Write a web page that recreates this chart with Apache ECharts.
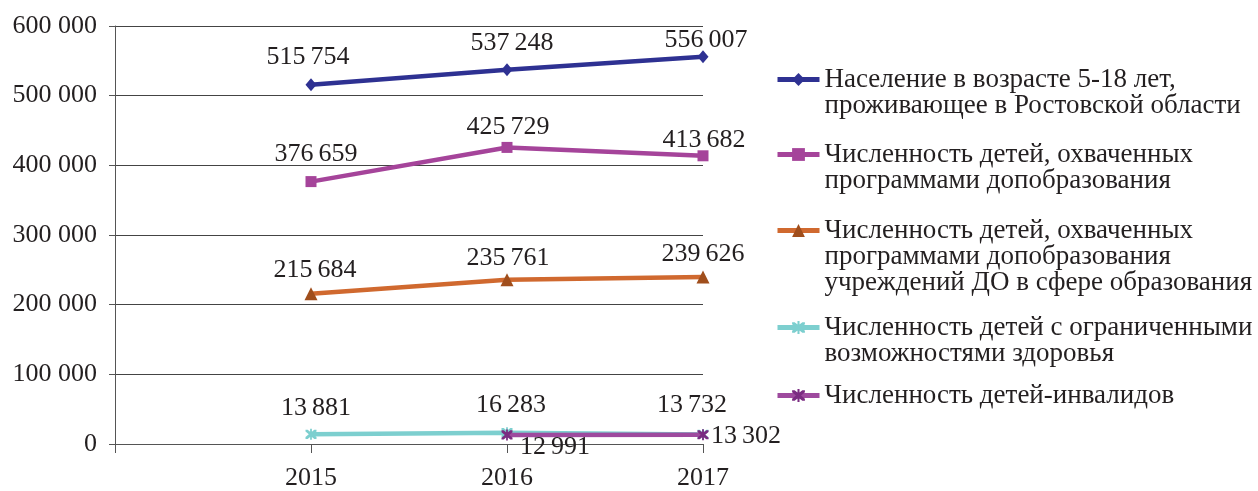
<!DOCTYPE html>
<html>
<head>
<meta charset="utf-8">
<script src="https://cdn.jsdelivr.net/npm/echarts@6/dist/echarts.min.js"></script>
<style>html,body{margin:0;padding:0;background:#fff}#c{width:1258px;height:491px}</style>
</head>
<body>
<div id="c"></div>
<script>
// ---- data ----
const years = [2015, 2016, 2017];
const seriesNames = [
  'Население в возрасте 5-18 лет,\nпроживающее в Ростовской области',
  'Численность детей, охваченных\nпрограммами допобразования',
  'Численность детей, охваченных\nпрограммами допобразования\nучреждений ДО в сфере образования',
  'Численность детей с ограниченными\nвозможностями здоровья',
  'Численность детей-инвалидов'
];
const population = [515754, 537248, 556007];
const coveredAll = [376659, 425729, 413682];
const coveredDO = [215684, 235761, 239626];
const limitedHealth = [13881, 16283, 13732];
const disabled = [null, 12991, 13302];
const yTicks = [0, 100000, 200000, 300000, 400000, 500000, 600000];

// ---- style config ----
const FONT = 'Liberation Serif';
const TXT = '#231f20';
const LH = 26;
const starPath = 'path://M0,0 L2,0 L5,3 L8,0 L10,0 L10,2 L7,5 L10,8 L10,10 L8,10 L5,7 L2,10 L0,10 L0,8 L3,5 L0,2 Z M4.2,-1 L5.8,-1 L5.8,11 L4.2,11 Z';
const styles = [
  {color: '#2e3192', marker: '#2e3192', symbol: 'diamond', size: [11, 13]},
  {color: '#a5449a', marker: '#a5449a', symbol: 'rect', size: 11},
  {color: '#d0692f', marker: '#a04e1c', symbol: 'triangle', size: 13},
  {color: '#7dcfcf', marker: '#7dcfcf', symbol: starPath, size: 11},
  {color: '#9e4a9e', marker: '#7b2c82', symbol: starPath, size: 11}
];
const labelOffsets = [
  [[-3, -28], [5, -27], [3, -16]],
  [[5, -27], [1, -20], [1, -16]],
  [[4, -24], [1, -22], [0, -23]],
  [[5, -26], [4, -27], [-11, -29]],
  [[0, 0], [48, 12], [43, 1]]
];
const legendIconY = [79, 154, 230, 327, 395];

const values = [population, coveredAll, coveredDO, limitedHealth, disabled];

function fmt(v, sep) {
  return String(Math.round(v)).replace(/\B(?=(\d{3})+(?!\d))/g, sep);
}

const series = values.map((arr, si) => ({
  name: seriesNames[si],
  type: 'line',
  symbol: styles[si].symbol,
  symbolSize: styles[si].size,
  lineStyle: {color: styles[si].color, width: 4.5},
  itemStyle: {color: styles[si].marker},
  color: styles[si].color,
  z: 2 + si,
  data: years.map((y, i) => arr[i] == null ? null : {
    value: [y, arr[i]],
    label: {offset: labelOffsets[si][i]}
  }),
  label: {
    show: true,
    position: 'inside',
    align: 'center',
    verticalAlign: 'middle',
    fontFamily: FONT,
    fontSize: 26,
    color: TXT,
    formatter: p => fmt(p.value[1], '\u2009')
  }
}));

const legends = seriesNames.map((name, i) => {
  const n = name.split('\n').length;
  return {
    data: [name],
    orient: 'vertical',
    left: 775,
    top: legendIconY[i] - (2 * n - 1) * LH / 2,
    padding: 0,
    itemWidth: 42,
    itemHeight: 16,
    selectedMode: false,
    lineStyle: {width: 5},
    formatter: nm => '\n'.repeat(n - 1) + nm,
    textStyle: {
      fontFamily: FONT,
      fontSize: 27,
      lineHeight: LH,
      color: TXT
    }
  };
});

const chart = echarts.init(document.getElementById('c'));
chart.setOption({
  animation: false,
  backgroundColor: '#fff',
  grid: {left: 115, right: 555, top: 26, bottom: 45, containLabel: false},
  legend: legends,
  xAxis: {
    type: 'value',
    min: 2014, max: 2017, interval: 1,
    axisLine: {show: true, lineStyle: {color: '#555', width: 1}},
    axisTick: {show: true, length: 9, lineStyle: {color: '#555'}},
    splitLine: {show: false},
    axisLabel: {
      margin: 21, fontFamily: FONT, fontSize: 26, color: TXT,
      formatter: v => years.indexOf(v) >= 0 ? String(v) : ''
    }
  },
  yAxis: {
    type: 'value',
    min: yTicks[0], max: yTicks[yTicks.length - 1], interval: yTicks[1] - yTicks[0],
    axisLine: {show: true, lineStyle: {color: '#555', width: 1}},
    axisTick: {show: true, length: 6, lineStyle: {color: '#555'}},
    splitLine: {show: true, lineStyle: {color: '#444', width: 1}},
    axisLabel: {
      margin: 18, fontFamily: FONT, fontSize: 26, color: TXT,
      formatter: v => fmt(v, ' ')
    }
  },
  series: series
});
</script>
</body>
</html>
